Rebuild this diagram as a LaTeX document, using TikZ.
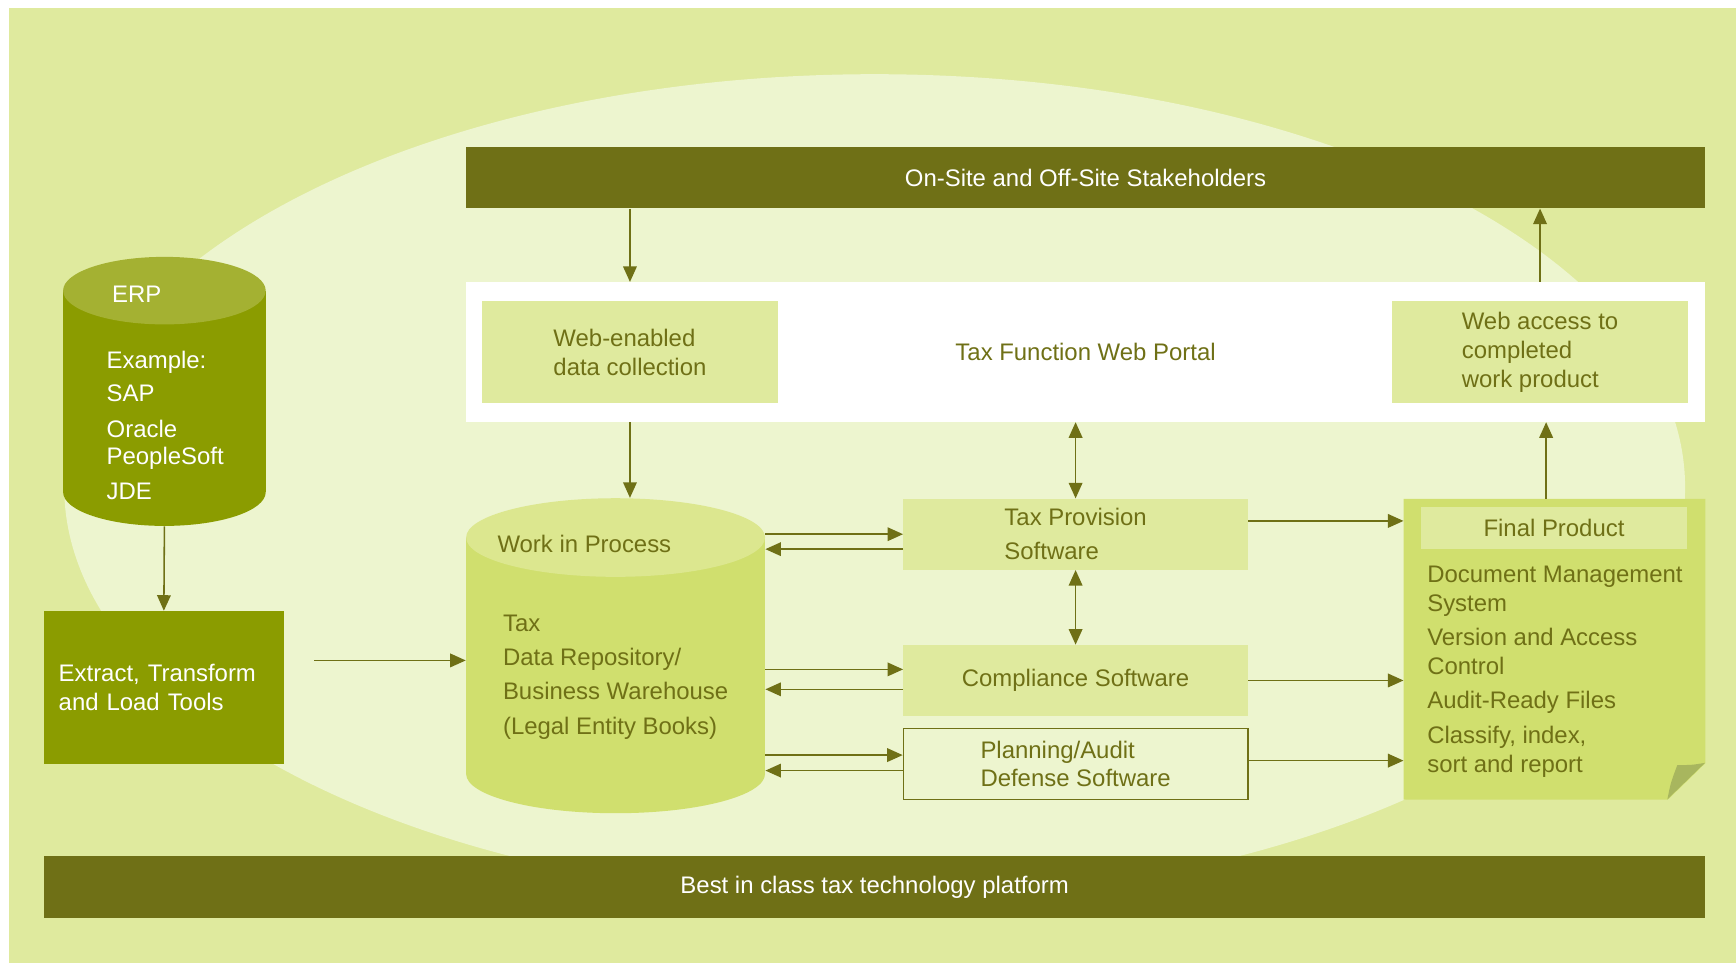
\documentclass[tikz,border=0pt]{standalone}
\usepackage{fontspec}
\setmainfont{Liberation Sans}
\usetikzlibrary{arrows.meta,calc}
\definecolor{bgleaf}{HTML}{DFEA9E}
\definecolor{ovalleaf}{HTML}{EDF5CF}
\definecolor{barolive}{HTML}{6F7016}
\definecolor{erpgreen}{HTML}{8B9C00}
\definecolor{erplid}{HTML}{A4B132}
\definecolor{wipbody}{HTML}{D0DF6E}
\definecolor{wiplid}{HTML}{DCE78F}
\definecolor{foldleaf}{HTML}{A8B65E}

\begin{document}
\begin{tikzpicture}[x=0.02cm, y=-0.02cm,
        every node/.style={font=\fontsize{12.3}{14.8}\selectfont},
        bar/.style={fill=barolive, text=white, minimum width=22.38cm, minimum height=1.1cm},
        leafbox/.style={fill=bgleaf, text=barolive, align=left, minimum width=5.36cm, minimum height=1.84cm},
        softbox/.style={fill=bgleaf, text=barolive, align=left, minimum width=6.22cm, minimum height=1.28cm},
        darkbox/.style={fill=erpgreen, text=white, align=left},
        txt/.style={text=barolive, align=left, inner sep=0pt},
        arr/.style={draw=barolive, line width=0.8pt, -{Triangle[length=8pt,width=7pt]}},
        dblarr/.style={arr, {Triangle[length=8pt,width=7pt]}-{Triangle[length=8pt,width=7pt]}}]
    \useasboundingbox (0,0) rectangle (1568,870);
    \fill[bgleaf] (8,7) rectangle (1568,870);
    \fill[ovalleaf] (790,440) ellipse [x radius=732, y radius=373];

    % stakeholders and web portal
    \node[bar] (stake) at (980.5,160.5) {On-Site and Off-Site Stakeholders};
    \node[fill=white, text=barolive, minimum width=22.38cm, minimum height=2.52cm] (portal) at (980.5,318) {Tax Function Web Portal};
    \node[leafbox] (webdata) at (569,318) {Web-enabled\\data collection};
    \node[leafbox] (webaccess) at (1391,318) {Web access to\\completed\\work product};

    % ERP cylinder
    \fill[erpgreen] (57,262.5) rectangle (240,444.5);
    \fill[erpgreen] (148.5,444.5) ellipse [x radius=91.5, y radius=30.5];
    \fill[erplid] (148.5,262.5) ellipse [x radius=91.5, y radius=30.5];
    \node[minimum width=3.66cm, minimum height=4.86cm] (erp) at (148.5,353.5) {};
    \node[txt, text=white, anchor=base west] (erptitle) at (101,273) {ERP};
    \node[txt, text=white, anchor=north west] (erplist) at (96,316.5) {Example:\\[2.3pt]SAP\\[3.7pt]Oracle\\[-0.9pt]PeopleSoft\\[3.4pt]JDE};

    \node[darkbox, text width=3.8cm, minimum width=4.34cm, minimum height=2.76cm] (etl) at (148,621) {Extract, Transform\\and Load Tools};

    % work in process cylinder
    \fill[wipbody] (421,485.5) rectangle (691,699);
    \fill[wipbody] (556,699) ellipse [x radius=135, y radius=35.5];
    \fill[wiplid] (556,485.5) ellipse [x radius=135, y radius=35.5];
    \node[minimum width=5.4cm, minimum height=5.7cm] (wip) at (556,592.5) {};
    \node[txt, anchor=base west] (wiptitle) at (449,499) {Work in Process};
    \node[txt, anchor=north west] (wiplist) at (454,555) {Tax\\[2.8pt]Data Repository/\\[2.8pt]Business Warehouse\\[2.8pt](Legal Entity Books)};

    % software
    \node[softbox] (taxprov) at (971.5,482.5) {Tax Provision\\[2.8pt]Software};
    \node[softbox] (compl) at (971.5,614.6) {Compliance Software};
    \node[softbox, fill=ovalleaf, draw=barolive, line width=0.8pt] (plan) at (971.5,690) {Planning/Audit\\Defense Software};

    % final product sheet
    \node[minimum width=5.44cm, minimum height=5.42cm] (final) at (1404,586.5) {};
    \fill[wipbody] (final.north west) -- (final.north east) -- ($(final.south east)+(0,-33)$)
        -- ($(final.south east)+(-34,0)$) -- (final.south west) -- cycle;
    \fill[foldleaf] (1506,722) .. controls (1509,707) .. (1515,691) .. controls (1528,691) .. (1540,689) -- cycle;
    \node[fill=bgleaf, text=barolive, minimum width=4.8cm, minimum height=0.75cm] (fphead) at (1403.6,477) {Final Product};
    \node[txt, anchor=north west] (fplist) at (1288.8,511.3) {Document Management\\System\\[2.8pt]Version and Access\\Control\\[2.8pt]Audit-Ready Files\\[2.8pt]Classify, index,\\sort and report};

    \node[bar, minimum width=30cm, minimum height=1.12cm] (platform) at (790,801) {Best in class tax technology platform};

    % connectors
    \draw[arr] (webdata |- stake.south) -- (webdata |- portal.north);
    \draw[arr] (webaccess |- portal.north) -- (webaccess |- stake.south);
    \draw[arr] (webdata |- portal.south) -- (webdata |- wip.north);
    \draw[dblarr] (taxprov |- portal.south) -- (taxprov.north);
    \draw[dblarr] (taxprov.south) -- (compl.north);
    \draw[arr] (erp.south) -- (etl.north);
    \coordinate (etlout) at ($(etl.east)+(27,-24.5)$);
    \draw[arr] (etlout) -- (etlout -| wip.west);
    % to and from the warehouse
    \draw[arr] (taxprov.west -| wip.east) -- (taxprov.west);
    \draw[arr] ($(taxprov.west)+(0,13.5)$) -- ($(taxprov.west -| wip.east)+(0,13.5)$);
    \draw[arr] ($(compl.west -| wip.east)+(0,-10)$) -- ($(compl.west)+(0,-10)$);
    \draw[arr] ($(compl.west)+(0,8)$) -- ($(compl.west -| wip.east)+(0,8)$);
    \draw[arr] ($(plan.west -| wip.east)+(0,-8)$) -- ($(plan.west)+(0,-8)$);
    \draw[arr] ($(plan.west)+(0,6)$) -- ($(plan.west -| wip.east)+(0,6)$);
    % into the final product
    \draw[arr] ($(taxprov.east)+(0,-12)$) -- ($(taxprov.east -| final.west)+(0,-12)$);
    \draw[arr] (compl.east) -- (compl.east -| final.west);
    \draw[arr] ($(plan.east)+(0,-3)$) -- ($(plan.east -| final.west)+(0,-3)$);
    \coordinate (fpout) at ($(final.north)+(-7.5,0)$);
    \draw[arr] (fpout) -- (fpout |- portal.south);
\end{tikzpicture}
\end{document}
